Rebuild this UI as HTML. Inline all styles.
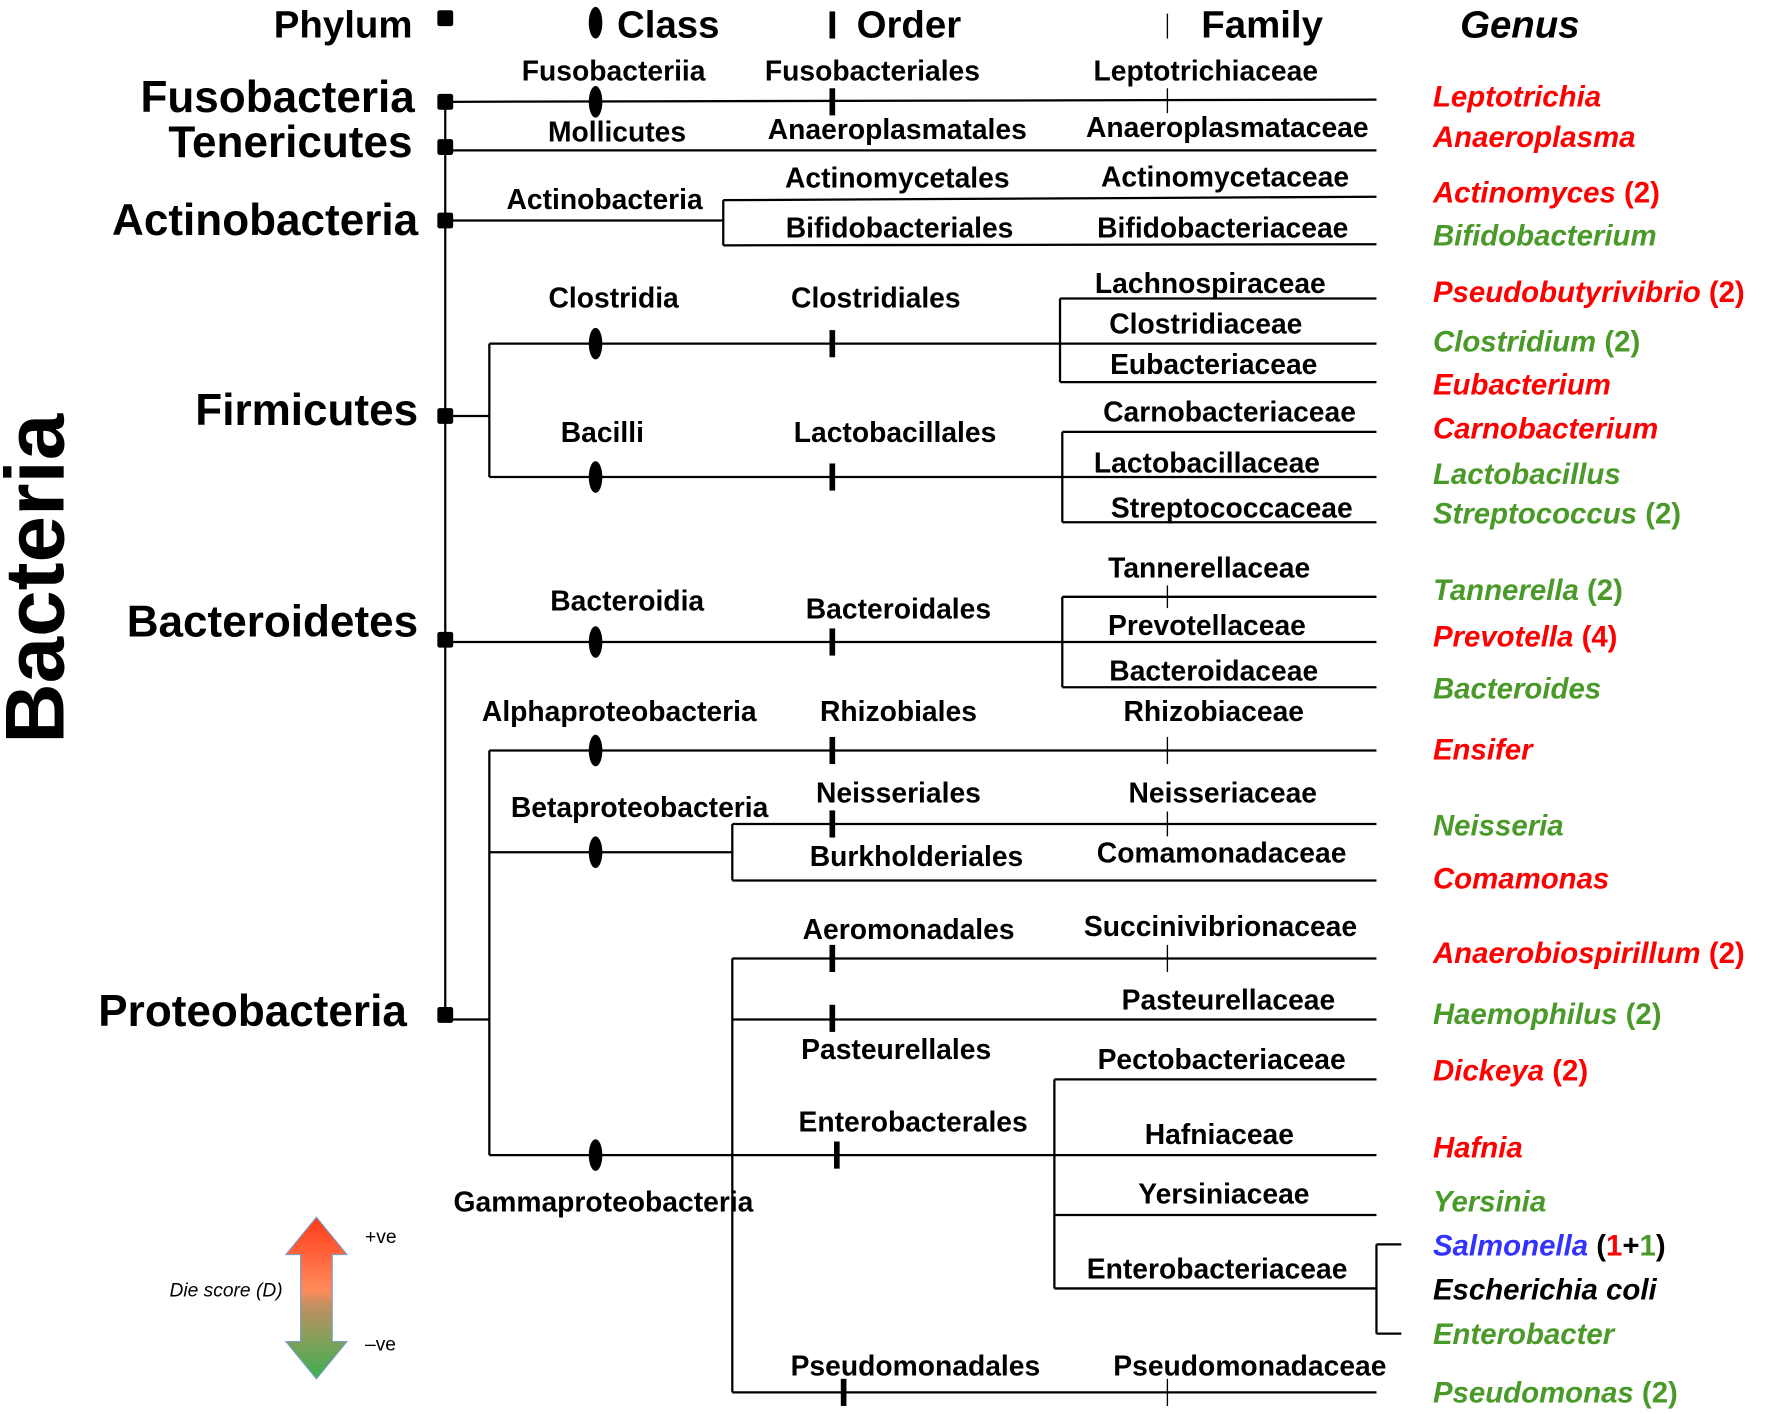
<!DOCTYPE html>
<html><head><meta charset="utf-8"><style>
html,body{margin:0;padding:0;background:#fff;}
svg{display:block;}
text{font-family:"Liberation Sans",Arial,sans-serif;font-weight:bold;}
.c{font-size:25px;text-anchor:middle;}
.g{font-size:26px;font-style:italic;}
.n{font-style:normal;}
.r{fill:#ff0000;} .gr{fill:#4a9a2a;}
</style></head><body>
<svg width="1772" height="1414" viewBox="0 0 1568 1251" xmlns="http://www.w3.org/2000/svg">
<defs><linearGradient id="gd" x1="0" y1="0" x2="0" y2="1">
<stop offset="0" stop-color="#ff3a1a"/><stop offset="0.45" stop-color="#ff8a5a"/><stop offset="0.55" stop-color="#c09060"/><stop offset="1" stop-color="#3cb050"/></linearGradient></defs>
<g stroke="#000" stroke-width="2" fill="none">
<line x1="394" y1="90" x2="394" y2="898"/>
<line x1="394" y1="90" x2="1218" y2="88"/>
<line x1="394" y1="133" x2="1218" y2="133"/>
<line x1="394" y1="195" x2="640" y2="195"/>
<line x1="640" y1="177" x2="640" y2="217"/>
<line x1="640" y1="177" x2="1218" y2="174"/>
<line x1="640" y1="217" x2="1218" y2="216"/>
<line x1="394" y1="368" x2="433" y2="368"/>
<line x1="433" y1="304" x2="433" y2="422"/>
<line x1="433" y1="304" x2="1218" y2="304"/>
<line x1="938" y1="264" x2="938" y2="338"/>
<line x1="938" y1="264" x2="1218" y2="264"/>
<line x1="938" y1="338" x2="1218" y2="338"/>
<line x1="433" y1="422" x2="1218" y2="422"/>
<line x1="940" y1="382" x2="940" y2="462"/>
<line x1="940" y1="382" x2="1218" y2="382"/>
<line x1="940" y1="462" x2="1218" y2="462"/>
<line x1="394" y1="568" x2="1218" y2="568"/>
<line x1="940" y1="528" x2="940" y2="608"/>
<line x1="940" y1="528" x2="1218" y2="528"/>
<line x1="940" y1="608" x2="1218" y2="608"/>
<line x1="394" y1="902" x2="433" y2="902"/>
<line x1="433" y1="664" x2="433" y2="1022"/>
<line x1="433" y1="664" x2="1218" y2="664"/>
<line x1="433" y1="754" x2="648" y2="754"/>
<line x1="648" y1="729" x2="648" y2="779"/>
<line x1="648" y1="729" x2="1218" y2="729"/>
<line x1="648" y1="779" x2="1218" y2="779"/>
<line x1="433" y1="1022" x2="1218" y2="1022"/>
<line x1="648" y1="848" x2="648" y2="1232"/>
<line x1="648" y1="848" x2="1218" y2="848"/>
<line x1="648" y1="902" x2="1218" y2="902"/>
<line x1="648" y1="1232" x2="1218" y2="1232"/>
<line x1="933" y1="955" x2="933" y2="1140"/>
<line x1="933" y1="955" x2="1218" y2="955"/>
<line x1="933" y1="1075" x2="1218" y2="1075"/>
<line x1="933" y1="1140" x2="1218" y2="1140"/>
<line x1="1218" y1="1101" x2="1218" y2="1180"/>
<line x1="1218" y1="1101" x2="1240" y2="1101"/>
<line x1="1218" y1="1180" x2="1240" y2="1180"/>
<g stroke-width="1.2">
<line x1="1033" y1="12" x2="1033" y2="34"/>
<line x1="1033" y1="78" x2="1033" y2="100"/>
<line x1="1033" y1="518" x2="1033" y2="538"/>
<line x1="1033" y1="652" x2="1033" y2="676"/>
<line x1="1033" y1="718" x2="1033" y2="740"/>
<line x1="1033" y1="836" x2="1033" y2="860"/>
<line x1="1033" y1="1220" x2="1033" y2="1244"/>
</g>
</g>
<g fill="#000">
<rect x="387" y="9" width="14" height="14" rx="2"/>
<rect x="387" y="83" width="14" height="14" rx="2"/>
<rect x="387" y="123" width="14" height="14" rx="2"/>
<rect x="387" y="188" width="14" height="14" rx="2"/>
<rect x="387" y="361" width="14" height="14" rx="2"/>
<rect x="387" y="559" width="14" height="14" rx="2"/>
<rect x="387" y="891" width="14" height="14" rx="2"/>
<ellipse cx="527" cy="20" rx="6" ry="14"/>
<ellipse cx="527" cy="90" rx="6" ry="14"/>
<ellipse cx="527" cy="304" rx="6" ry="14"/>
<ellipse cx="527" cy="422" rx="6" ry="14"/>
<ellipse cx="527" cy="568" rx="6" ry="14"/>
<ellipse cx="527" cy="664" rx="6" ry="14"/>
<ellipse cx="527" cy="754" rx="6" ry="14"/>
<ellipse cx="527" cy="1022" rx="6" ry="14"/>
<rect x="734" y="10" width="5" height="24"/>
<rect x="734" y="78" width="5" height="24"/>
<rect x="734" y="292" width="5" height="24"/>
<rect x="734" y="410" width="5" height="24"/>
<rect x="734" y="556" width="5" height="24"/>
<rect x="734" y="652" width="5" height="24"/>
<rect x="734" y="717" width="5" height="24"/>
<rect x="734" y="836" width="5" height="24"/>
<rect x="734" y="889" width="5" height="24"/>
<rect x="738" y="1010" width="5" height="24"/>
<rect x="744" y="1220" width="5" height="24"/>
</g>
<g style="font-size:34px">
<text x="365" y="33" text-anchor="end">Phylum</text>
<text x="546" y="33">Class</text>
<text x="758" y="33">Order</text>
<text x="1063" y="33">Family</text>
<text x="1292" y="33" font-style="italic">Genus</text>
</g>
<g style="font-size:39px" text-anchor="end">
<text x="367" y="99">Fusobacteria</text>
<text x="365" y="139">Tenericutes</text>
<text x="370" y="208">Actinobacteria</text>
<text x="370" y="376">Firmicutes</text>
<text x="370" y="563">Bacteroidetes</text>
<text x="360" y="908">Proteobacteria</text>
</g>
<text transform="translate(56,512) rotate(-90)" text-anchor="middle" style="font-size:74px">Bacteria</text>
<g class="c">
<text x="543" y="71">Fusobacteriia</text><text x="546" y="125">Mollicutes</text>
<text x="535" y="185">Actinobacteria</text><text x="543" y="272">Clostridia</text>
<text x="533" y="391">Bacilli</text><text x="555" y="540">Bacteroidia</text>
<text x="548" y="638">Alphaproteobacteria</text><text x="566" y="723">Betaproteobacteria</text>
<text x="534" y="1072">Gammaproteobacteria</text>
<text x="772" y="71">Fusobacteriales</text><text x="794" y="123">Anaeroplasmatales</text>
<text x="794" y="166">Actinomycetales</text><text x="796" y="210">Bifidobacteriales</text>
<text x="775" y="272">Clostridiales</text><text x="792" y="391">Lactobacillales</text>
<text x="795" y="547">Bacteroidales</text><text x="795" y="638">Rhizobiales</text>
<text x="795" y="710">Neisseriales</text><text x="811" y="766">Burkholderiales</text>
<text x="804" y="831">Aeromonadales</text><text x="793" y="937">Pasteurellales</text>
<text x="808" y="1001">Enterobacterales</text><text x="810" y="1217">Pseudomonadales</text>
<text x="1067" y="71">Leptotrichiaceae</text><text x="1086" y="121">Anaeroplasmataceae</text>
<text x="1084" y="165">Actinomycetaceae</text><text x="1082" y="210">Bifidobacteriaceae</text>
<text x="1071" y="259">Lachnospiraceae</text><text x="1067" y="295">Clostridiaceae</text>
<text x="1074" y="331">Eubacteriaceae</text><text x="1088" y="373">Carnobacteriaceae</text>
<text x="1068" y="418">Lactobacillaceae</text><text x="1090" y="458">Streptococcaceae</text>
<text x="1070" y="511">Tannerellaceae</text><text x="1068" y="562">Prevotellaceae</text>
<text x="1074" y="602">Bacteroidaceae</text><text x="1074" y="638">Rhizobiaceae</text>
<text x="1082" y="710">Neisseriaceae</text><text x="1081" y="763">Comamonadaceae</text>
<text x="1080" y="828">Succinivibrionaceae</text><text x="1087" y="893">Pasteurellaceae</text>
<text x="1081" y="946">Pectobacteriaceae</text><text x="1079" y="1012">Hafniaceae</text>
<text x="1083" y="1065">Yersiniaceae</text><text x="1077" y="1131">Enterobacteriaceae</text>
<text x="1106" y="1217">Pseudomonadaceae</text>
</g>
<g class="g">
<text x="1268" y="94" class="r">Leptotrichia</text>
<text x="1268" y="130" class="r">Anaeroplasma</text>
<text x="1268" y="179" class="r">Actinomyces <tspan class="n">(2)</tspan></text>
<text x="1268" y="217" class="gr">Bifidobacterium</text>
<text x="1268" y="267" class="r">Pseudobutyrivibrio <tspan class="n">(2)</tspan></text>
<text x="1268" y="311" class="gr">Clostridium <tspan class="n">(2)</tspan></text>
<text x="1268" y="349" class="r">Eubacterium</text>
<text x="1268" y="388" class="r">Carnobacterium</text>
<text x="1268" y="428" class="gr">Lactobacillus</text>
<text x="1268" y="463" class="gr">Streptococcus <tspan class="n">(2)</tspan></text>
<text x="1268" y="531" class="gr">Tannerella <tspan class="n">(2)</tspan></text>
<text x="1268" y="572" class="r">Prevotella <tspan class="n">(4)</tspan></text>
<text x="1268" y="618" class="gr">Bacteroides</text>
<text x="1268" y="672" class="r">Ensifer</text>
<text x="1268" y="739" class="gr">Neisseria</text>
<text x="1268" y="786" class="r">Comamonas</text>
<text x="1268" y="852" class="r">Anaerobiospirillum <tspan class="n">(2)</tspan></text>
<text x="1268" y="906" class="gr">Haemophilus <tspan class="n">(2)</tspan></text>
<text x="1268" y="956" class="r">Dickeya <tspan class="n">(2)</tspan></text>
<text x="1268" y="1024" class="r">Hafnia</text>
<text x="1268" y="1072" class="gr">Yersinia</text>
<text x="1268" y="1111" fill="#3333ff">Salmonella <tspan class="n" fill="#000">(</tspan><tspan class="n" fill="#ff0000">1</tspan><tspan class="n" fill="#000">+</tspan><tspan class="n" fill="#4a9a2a">1</tspan><tspan class="n" fill="#000">)</tspan></text>
<text x="1268" y="1150" fill="#000">Escherichia coli</text>
<text x="1268" y="1189" class="gr">Enterobacter</text>
<text x="1268" y="1241" class="gr">Pseudomonas <tspan class="n">(2)</tspan></text>
</g>
<polygon points="280,1077 307,1110 294,1110 294,1187 307,1187 280,1220 253,1187 266,1187 266,1110 253,1110" fill="url(#gd)" stroke="#7a9cc8" stroke-width="1"/>
<g style="font-weight:normal;font-size:17px">
<text x="323" y="1100" style="font-weight:normal">+ve</text>
<text x="323" y="1195" style="font-weight:normal">–ve</text>
<text x="150" y="1147" style="font-weight:normal;font-style:italic">Die score (D)</text>
</g>
</svg>
</body></html>
